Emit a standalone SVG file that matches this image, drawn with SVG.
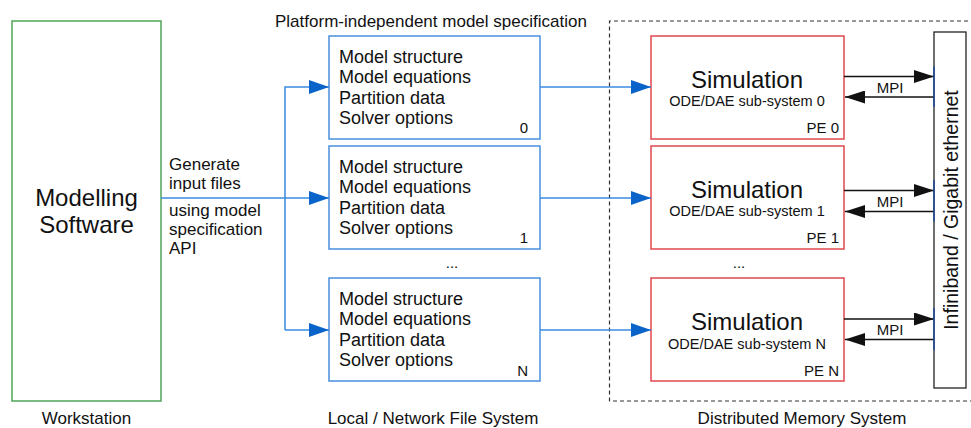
<svg xmlns="http://www.w3.org/2000/svg" width="971" height="428" viewBox="0 0 971 428">
<style>
text{font-family:"Liberation Sans",Arial,sans-serif;fill:#111}
.green{fill:none;stroke:#4fa55a;stroke-width:1.5}
.bbox{fill:#fff;stroke:#4a8fdc;stroke-width:1.5}
.rbox{fill:#fff;stroke:#e0474c;stroke-width:1.5}
.bl{fill:none;stroke:#3a8be0;stroke-width:1.5}
.mpi{fill:none;stroke:#111;stroke-width:1.3}
.tick{stroke:#1f4a9a;stroke-width:1.5}
.t18{font-size:18px}
.t17{font-size:17px}
.t15{font-size:15px}
.sim{font-size:24px;text-anchor:middle}
.ode{font-size:14.5px;text-anchor:middle}
.end{text-anchor:end}
.mid{text-anchor:middle}
</style>
<defs>
<marker id="ab" markerWidth="20" markerHeight="14" refX="20" refY="7" orient="auto" markerUnits="userSpaceOnUse">
<path d="M0,0 L20,7 L0,14 Z" fill="#0a63c9"/>
</marker>
<marker id="ak" markerWidth="20" markerHeight="13" refX="20" refY="6.5" orient="auto" markerUnits="userSpaceOnUse">
<path d="M0,0 L20,6.5 L0,13 Z" fill="#111"/>
</marker>
</defs>

<g id="dist-region">
<path d="M975,21 H609.5 V401 H975" fill="none" stroke="#333" stroke-width="1.2" stroke-dasharray="4 3"/>
</g>

<g id="workstation">
<rect class="green" x="12" y="21" width="149" height="380"/>
<text class="mid" x="86.5" y="206" font-size="24">Modelling</text>
<text class="mid" x="86.5" y="233" font-size="24">Software</text>
<text class="mid t17" x="86.5" y="424">Workstation</text>
</g>

<g id="labels">
<text class="t17" x="275" y="27">Platform-independent model specification</text>
<text class="t17" x="169" y="170">Generate</text>
<text class="t17" x="169" y="189">input files</text>
<text class="t17" x="169" y="216">using model</text>
<text class="t17" x="169" y="235">specification</text>
<text class="t17" x="169" y="254">API</text>
<text class="mid t15" x="452" y="268">...</text>
<text class="mid t15" x="739" y="268">...</text>
<text class="mid t17" x="433" y="424">Local / Network File System</text>
<text class="mid t17" x="802" y="424">Distributed Memory System</text>
</g>

<g id="spec0">
<rect class="bbox" x="329" y="36" width="211" height="103"/>
<text class="t18" x="339" y="63">Model structure</text>
<text class="t18" x="339" y="83.3">Model equations</text>
<text class="t18" x="339" y="103.6">Partition data</text>
<text class="t18" x="339" y="124">Solver options</text>
<text class="t15 end" x="528" y="133">0</text>
</g>
<g id="spec1">
<rect class="bbox" x="329" y="146" width="211" height="103"/>
<text class="t18" x="339" y="173">Model structure</text>
<text class="t18" x="339" y="193.3">Model equations</text>
<text class="t18" x="339" y="213.6">Partition data</text>
<text class="t18" x="339" y="234">Solver options</text>
<text class="t15 end" x="528" y="243">1</text>
</g>
<g id="specN">
<rect class="bbox" x="329" y="278" width="211" height="103"/>
<text class="t18" x="339" y="305">Model structure</text>
<text class="t18" x="339" y="325.3">Model equations</text>
<text class="t18" x="339" y="345.6">Partition data</text>
<text class="t18" x="339" y="366">Solver options</text>
<text class="t15 end" x="528" y="376">N</text>
</g>

<g id="sim0">
<rect class="rbox" x="651" y="36" width="193" height="103"/>
<text class="sim" x="747" y="87.5">Simulation</text>
<text class="ode" x="747" y="106">ODE/DAE sub-system 0</text>
<text class="t15 end" x="839" y="133">PE 0</text>
</g>
<g id="sim1">
<rect class="rbox" x="651" y="146" width="193" height="103"/>
<text class="sim" x="747" y="198">Simulation</text>
<text class="ode" x="747" y="216">ODE/DAE sub-system 1</text>
<text class="t15 end" x="839" y="243">PE 1</text>
</g>
<g id="simN">
<rect class="rbox" x="651" y="278" width="193" height="103"/>
<text class="sim" x="747" y="330">Simulation</text>
<text class="ode" x="747" y="348.5">ODE/DAE sub-system N</text>
<text class="t15 end" x="839" y="375.5">PE N</text>
</g>

<g id="network">
<rect x="934" y="32" width="32" height="356" fill="#fff" stroke="#222" stroke-width="1.3"/>
<text x="957.5" y="210" font-size="19.5" text-anchor="middle" transform="rotate(-90 957.5 210)">Infiniband / Gigabit ethernet</text>
</g>

<g id="connectors">
<path class="bl" d="M161,198 H329" marker-end="url(#ab)"/>
<path class="bl" d="M285,330 V87 H329" marker-end="url(#ab)"/>
<path class="bl" d="M285,330 H329" marker-end="url(#ab)"/>
<path class="bl" d="M540,87 H651" marker-end="url(#ab)"/>
<path class="bl" d="M540,198 H651" marker-end="url(#ab)"/>
<path class="bl" d="M540,330 H651" marker-end="url(#ab)"/>

<path class="mpi" d="M844,76.5 H934" marker-end="url(#ak)"/>
<path class="mpi" d="M934,97 H845" marker-end="url(#ak)"/>
<path class="mpi" d="M844,190.5 H934" marker-end="url(#ak)"/>
<path class="mpi" d="M934,211.5 H845" marker-end="url(#ak)"/>
<path class="mpi" d="M844,319 H934" marker-end="url(#ak)"/>
<path class="mpi" d="M934,339.5 H845" marker-end="url(#ak)"/>
<line class="tick" x1="934" y1="66.5" x2="934" y2="107"/>
<line class="tick" x1="934" y1="180" x2="934" y2="221.5"/>
<line class="tick" x1="934" y1="308" x2="934" y2="350"/>
<text class="t15 mid" x="890" y="93">MPI</text>
<text class="t15 mid" x="890" y="207">MPI</text>
<text class="t15 mid" x="890" y="335">MPI</text>
</g>
</svg>
